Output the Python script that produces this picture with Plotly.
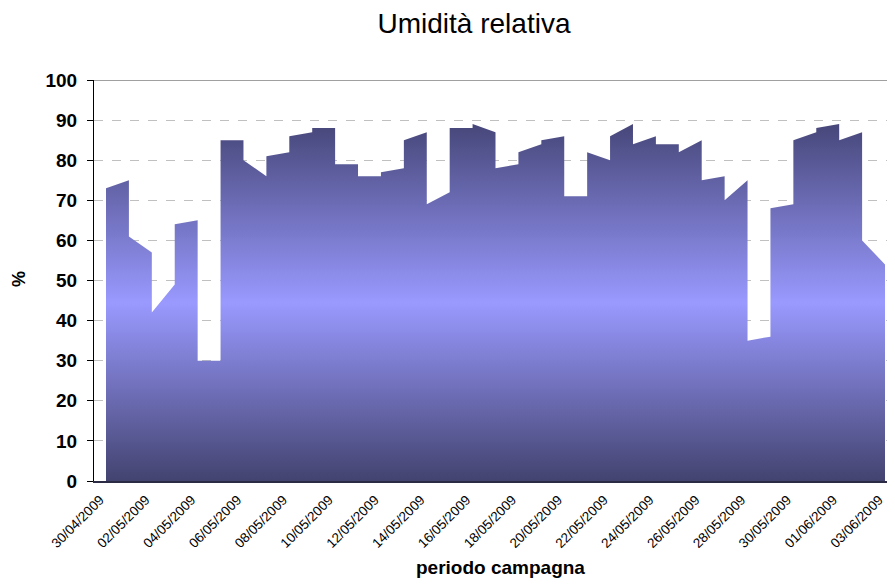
import pandas as pd
import plotly.graph_objects as go

# daily relative humidity: value at start and at end of each day (%)
days = pd.date_range("2009-04-30", "2009-06-02", freq="D")
start_vals = [73, 61, 42, 64, 30, 85, 80, 81, 86, 88, 79, 76, 77, 85, 69, 88, 89,
              78, 82, 85, 71, 82, 86, 84, 84, 82, 75, 70, 35, 68, 85, 88, 85, 60]
end_vals = [75, 57, 49, 65, 30, 85, 76, 82, 87, 88, 79, 76, 78, 87, 72, 88, 87,
            79, 84, 86, 71, 80, 89, 86, 84, 85, 76, 75, 36, 69, 87, 89, 87, 54]

x, y = [], []
for d, a, b in zip(days, start_vals, end_vals):
    x += [d, d + pd.Timedelta(days=1)]
    y += [a, b]

font = "Liberation Sans, Arial, sans-serif"

trace = go.Scatter(
    x=x, y=y, mode="lines", fill="tozeroy",
    line=dict(width=0, color="#8888dd"),
    fillgradient=dict(type="vertical", start=0, stop=max(end_vals + start_vals),
                      colorscale=[[0, "#434370"], [0.5, "#9999FF"], [1, "#47477a"]]),
    hoverinfo="skip", showlegend=False,
)

# page body has an 8px margin, so the figure is shrunk/offset to compensate
W, H = 879, 577
L, T = 86, 72
pw, ph = 793, 401

fig = go.Figure(trace)
fig.update_layout(
    width=W, height=H,
    margin=dict(l=L, r=W - L - pw, t=T, b=H - T - ph),
    paper_bgcolor="white", plot_bgcolor="white",
    font=dict(family=font, color="black"),
    title=dict(text="Umidità relativa", x=(474 - 8) / W, xanchor="center",
               y=1 - (23 - 8) / H, yanchor="middle", font=dict(size=28, family=font)),
    xaxis=dict(
        type="date",
        range=["2009-04-29 11:26", "2009-06-03 02:05"],
        tick0="2009-04-30", dtick=2 * 86400000, tickformat="%d/%m/%Y",
        tickangle=-45, tickfont=dict(size=13.5, family=font),
        ticklabelshift=-6, ticklabelstandoff=4,
        showgrid=False, zeroline=False, ticks="",
        showline=True, linecolor="#2b2b45", linewidth=1.5,
    ),
    yaxis=dict(
        range=[0, 100], dtick=10,
        tickfont=dict(size=19, family=font, weight="bold"),
        ticklabelstandoff=6,
        showgrid=True, gridcolor="#c0c0c0", griddash="dash", gridwidth=1,
        zeroline=False, ticks="outside", ticklen=6, tickcolor="black",
        showline=True, linecolor="black", linewidth=1,
    ),
    shapes=[dict(type="line", xref="paper", yref="y", x0=0, x1=1, y0=100, y1=100,
                 line=dict(color="#808080", width=1.5))],
    annotations=[
        dict(text="<b>periodo campagna</b>", xref="paper", yref="paper",
             x=(500 - 94) / pw, y=-(567 - 481) / ph, xanchor="center", yanchor="middle",
             showarrow=False, font=dict(size=19, family=font)),
        dict(text="<b>%</b>", xref="paper", yref="paper",
             x=-(94 - 19) / pw, y=(481 - 279) / ph, xanchor="center", yanchor="middle",
             textangle=-90, showarrow=False, font=dict(size=18, family=font)),
    ],
)

fig.write_html("out.html")
